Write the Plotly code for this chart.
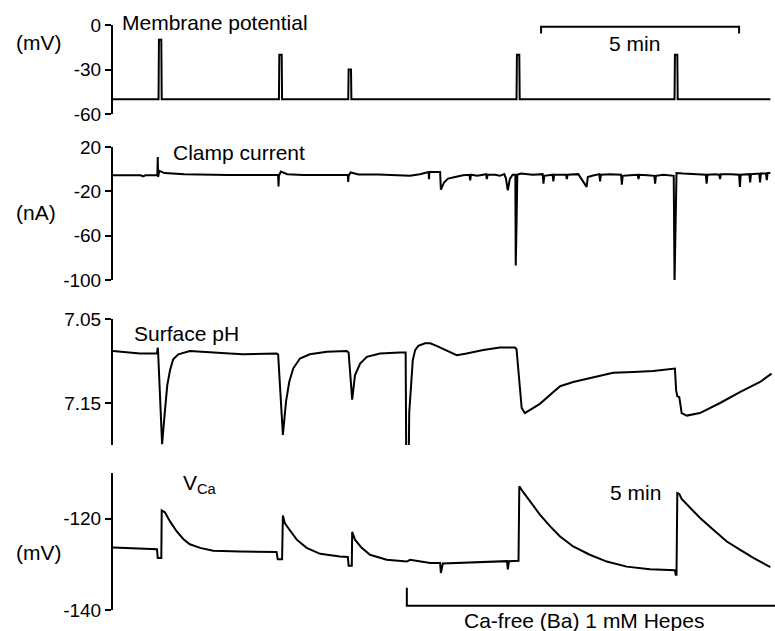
import plotly.graph_objects as go

# ---------------- data (time in minutes) ----------------
mp_t = [0.00, 1.15, 1.16, 1.22, 1.23, 4.19, 4.20, 4.26, 4.27, 5.94, 5.95, 6.01, 6.02,
        10.19, 10.20, 10.26, 10.27, 14.18, 14.19, 14.25, 14.26, 16.60]
mp_mv = [-50, -50, -10, -10, -50, -50, -20, -20, -50, -50, -30, -30, -50,
         -50, -20, -20, -50, -50, -20, -20, -50, -50]

cc_t = [0.00, 0.70, 0.76, 0.82, 1.12, 1.13, 1.14, 1.17, 1.30, 1.80, 2.90,
        4.17, 4.18, 4.19, 4.24, 4.40, 4.80, 5.93, 5.94, 5.95, 6.00, 6.20, 6.70,
        7.25, 7.50, 7.75, 7.93, 7.97, 7.98, 7.99, 8.26, 8.28, 8.36, 8.46, 8.64, 8.84,
        9.00, 9.02, 9.04, 9.20, 9.42, 9.44, 9.46, 9.65, 9.77, 9.88, 9.92, 9.97, 10.02,
        10.09, 10.16, 10.17, 10.19, 10.21, 10.30, 10.60, 10.85, 10.87, 10.89, 11.10,
        11.12, 11.14, 11.44, 11.46, 11.48, 11.75, 11.96, 11.99, 12.10, 12.28, 12.30,
        12.32, 12.55, 12.83, 12.85, 12.87, 13.05, 13.25, 13.27, 13.29, 13.50, 13.67,
        13.69, 13.71, 13.90, 14.16, 14.18, 14.20, 14.23, 14.40, 14.70, 14.97, 14.99,
        15.01, 15.20, 15.31, 15.33, 15.35, 15.60, 15.81, 15.83, 15.85, 16.07, 16.09,
        16.11, 16.32, 16.34, 16.36, 16.49, 16.51, 16.53, 16.60]
cc_nA = [-5.5, -5.5, -6.5, -5.5, -5.5, 11, -7, -1.5, -3.5, -4.5, -5.3,
         -5.2, -15.5, -6, -2.2, -4.5, -5.2, -5.3, -11.5, -6, -3, -4.8, -4.8,
         -5.5, -6, -4.5, -2.5, -2.5, -9, -2.5, -2.5, -18.5, -12, -8.5, -7, -5.5,
         -5, -10, -5, -6, -4.5, -9, -5, -5, -6, -4.5, -8, -19, -9,
         -5, -5, -87, -50, -5, -4, -5, -4.5, -13, -6, -5,
         -11, -5, -5, -9, -5, -4.5, -16, -7, -6, -4.5, -11,
         -5, -4.5, -5, -14, -6, -5.5, -5, -9, -5, -5.5, -6,
         -13, -6, -5, -6, -103, -61, -3.5, -4, -4.5, -5, -13,
         -5, -4.5, -5, -9, -4.5, -4.5, -5, -16, -5, -4.5, -12,
         -4.5, -4, -12, -4, -4, -10, -3.5, -3.5]

ph_t = [0.00, 0.68, 1.11, 1.13, 1.14, 1.24, 1.31, 1.37, 1.44, 1.52, 1.65, 1.94, 2.95,
        3.28, 4.13, 4.17, 4.29, 4.37, 4.45, 4.55, 4.72, 4.97, 5.40, 5.90, 5.95, 6.04,
        6.11, 6.24, 6.41, 6.74, 7.25, 7.39, 7.41, 7.46, 7.48, 7.53, 7.57, 7.63, 7.71,
        7.88, 8.01, 8.17, 8.43, 8.68, 8.93, 9.35, 9.77, 10.15, 10.19, 10.23, 10.28,
        10.32, 10.40, 10.53, 10.78, 11.12, 11.29, 11.62, 12.13, 12.63, 13.14, 13.64,
        14.19, 14.22, 14.25, 14.30, 14.36, 14.49, 14.82, 15.33, 15.83, 16.34, 16.63]
ph_val = [7.088, 7.091, 7.091, 7.084, 7.090, 7.199, 7.160, 7.129, 7.111, 7.098, 7.092,
          7.088, 7.091, 7.092, 7.091, 7.092, 7.188, 7.148, 7.125, 7.109, 7.097, 7.092,
          7.089, 7.088, 7.090, 7.146, 7.117, 7.103, 7.095, 7.091, 7.090, 7.090, 7.26,
          7.26, 7.162, 7.123, 7.099, 7.087, 7.082, 7.079, 7.079, 7.082, 7.088, 7.093,
          7.091, 7.087, 7.084, 7.084, 7.086, 7.111, 7.142, 7.156, 7.162, 7.158, 7.151,
          7.137, 7.130, 7.125, 7.119, 7.114, 7.113, 7.112, 7.109, 7.135, 7.142, 7.143,
          7.162, 7.165, 7.162, 7.150, 7.137, 7.125, 7.115]

vca_t = [0.00, 0.68, 1.11, 1.13, 1.22, 1.23, 1.31, 1.44, 1.61, 1.78, 1.94, 2.20, 2.53,
         3.21, 4.13, 4.16, 4.27, 4.29, 4.34, 4.43, 4.64, 4.89, 5.23, 5.73, 5.93, 5.95,
         6.03, 6.04, 6.11, 6.28, 6.49, 6.91, 7.42, 7.50, 8.01, 8.26, 8.28, 8.33, 9.02,
         9.77, 9.95, 9.97, 10.00, 10.24, 10.26, 10.36, 10.53, 10.78, 11.04, 11.29, 11.62,
         12.04, 12.47, 12.97, 13.56, 14.19, 14.21, 14.23, 14.25, 14.30, 14.36, 14.57,
         14.82, 15.16, 15.50, 15.83, 16.17, 16.60]
vca_mv = [-126.3, -126.6, -126.7, -128.6, -128.6, -118.2, -118.6, -120.6, -122.8, -124.5,
          -125.6, -126.4, -127.0, -127.2, -127.3, -128.9, -128.9, -119.3, -121.0, -122.1,
          -124.6, -126.4, -127.7, -128.3, -128.4, -130.3, -130.3, -122.9, -124.6, -126.4,
          -127.9, -129.0, -129.4, -129.0, -129.7, -129.7, -131.9, -129.8, -129.6, -129.4,
          -129.3, -131.1, -129.3, -129.2, -112.9, -114.2, -116.2, -119.1, -121.7, -123.9,
          -126.1, -127.9, -129.4, -130.5, -131.1, -131.3, -132.3, -132.3, -114.4, -114.6,
          -115.7, -117.6, -119.8, -122.4, -125.0, -126.8, -128.6, -130.6]

mp_ticks = [0, -30, -60]
cc_ticks = [20, -20, -60, -100]
ph_ticks = [7.05, 7.15]
vca_ticks = [-120, -140]

scale_start = 10.81      # start of the 5 min scale bar (min)
scale_len = 5            # min
solution_start = 7.42    # Ca-free (Ba) 1 mM Hepes applied (min)
t_end = 16.717

# ---------------- figure ----------------
W, H = 775, 631
FONT = "Liberation Sans, Arial, sans-serif"
px = lambda x: x / W
py = lambda y: 1 - y / H
hy = lambda vals: [str(v) for v in vals]   # plain hyphen minus like the original

fig = go.Figure()
line = dict(color="black", width=2)
fig.add_trace(go.Scatter(x=mp_t, y=mp_mv, mode="lines", line=line, xaxis="x", yaxis="y"))
fig.add_trace(go.Scatter(x=cc_t, y=cc_nA, mode="lines", line=line, xaxis="x2", yaxis="y2"))
fig.add_trace(go.Scatter(x=ph_t, y=ph_val, mode="lines", line=line, xaxis="x3", yaxis="y3"))
fig.add_trace(go.Scatter(x=vca_t, y=vca_mv, mode="lines", line=line, xaxis="x4", yaxis="y4"))

xdom = [px(113), 1.0]
xcommon = dict(visible=False, range=[0, t_end], domain=xdom, fixedrange=True,
               automargin=False)
ycommon = dict(showline=True, linecolor="black", linewidth=2, ticks="outside",
               ticklen=6, tickwidth=2, tickcolor="black", showgrid=False,
               zeroline=False, tickfont=dict(size=19, color="black", family=FONT),
               fixedrange=True, automargin=False)

fig.update_layout(
    template="none",
    width=W, height=H, margin=dict(l=0, r=0, t=0, b=0, pad=0, autoexpand=False),
    paper_bgcolor="white", plot_bgcolor="white", showlegend=False,
    font=dict(family=FONT, color="black", size=21),
    xaxis=dict(**xcommon, anchor="y"),
    xaxis2=dict(**xcommon, anchor="y2"),
    xaxis3=dict(**xcommon, anchor="y3"),
    xaxis4=dict(**xcommon, anchor="y4"),
    yaxis=dict(**ycommon, anchor="x", domain=[py(114), py(25)], range=[-60, 0],
               tickvals=mp_ticks, ticktext=hy(mp_ticks)),
    yaxis2=dict(**ycommon, anchor="x2", domain=[py(280), py(147)], range=[-100, 20],
                tickvals=cc_ticks, ticktext=hy(cc_ticks)),
    yaxis3=dict(**ycommon, anchor="x3", domain=[py(445), py(319)], range=[7.20, 7.05],
                tickvals=ph_ticks, ticktext=[f"{v:.2f}" for v in ph_ticks]),
    yaxis4=dict(**ycommon, anchor="x4", domain=[py(610), py(473)], range=[-140, -110],
                tickvals=vca_ticks, ticktext=hy(vca_ticks)),
)

# scale bar (5 min)
fig.add_shape(type="path", xref="x", yref="paper", line=dict(color="black", width=2),
              path=f"M {scale_start},{py(33.5)} L {scale_start},{py(26.7)} "
                   f"L {scale_start + scale_len},{py(26.7)} L {scale_start + scale_len},{py(33.5)}")
# solution bar
fig.add_shape(type="path", xref="x4", yref="paper", line=dict(color="black", width=2),
              path=f"M {solution_start},{py(587.7)} L {solution_start},{py(605.7)} "
                   f"L {t_end},{py(605.7)}")

def label(text, x, y, xanchor="left"):
    fig.add_annotation(text=text, x=px(x), y=py(y), xref="paper", yref="paper",
                       xanchor=xanchor, yanchor="middle", showarrow=False,
                       font=dict(size=21, color="black", family=FONT))

label("Membrane potential", 120, 22.7)
label("(mV)", 14, 42)
label("Clamp current", 171, 152.7)
label("(nA)", 14, 212)
label("Surface pH", 132, 333)
label("V<sub>Ca</sub>", 181, 484)
label("(mV)", 14, 552)
label("5 min", 634, 43, "center")
label("5 min", 635, 492, "center")
label("Ca-free (Ba) 1 mM Hepes", 583.5, 620, "center")

fig.write_html("out.html")
